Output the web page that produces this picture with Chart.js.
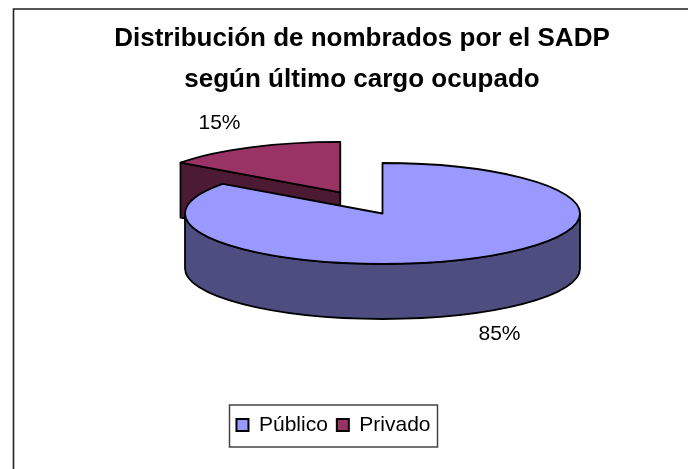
<!DOCTYPE html>
<html>
<head>
<meta charset="utf-8">
<style>html,body{margin:0;padding:0;background:#fff}canvas{display:block}</style>
<script src="https://cdn.jsdelivr.net/npm/chart.js@4"></script>
</head>
<body>
<canvas id="c" width="688" height="469"></canvas>
<script>
const titleLines = ['Distribución de nombrados por el SADP', 'según último cargo ocupado'];
const categories = ['Público', 'Privado'];
const shares = [85, 15];
const topColors = ['#9999FF', '#993366'];
const wallColors = ['#4D4D80', '#4D1A33'];

const FONT = '"Liberation Sans", Arial, sans-serif';
const PIE_X = 382.5, PIE_Y = 213.5, RADIUS = 197.5, SQUASH = 50.5 / 197.5, DEPTH = 55, EXPLODE = 93;
const LABEL_POS = [[499.5, 334], [219.5, 123]];

function screenY(el, y) { return PIE_Y + (y - el._base) * SQUASH; }

const pie3d = {
  id: 'pie3d',
  beforeDraw(chart) {
    const c = chart.ctx;
    c.save();
    c.strokeStyle = '#222';
    c.lineWidth = 1.6;
    c.beginPath();
    c.moveTo(688, 9); c.lineTo(13.5, 9); c.lineTo(13.5, 469);
    c.stroke();
    c.restore();
  },
  afterLayout(chart) {
    const l = chart.legend;
    l.left = 223; l.right = 444; l.width = 221;
    l.top = 405.5; l.height = 42; l.bottom = 447.5;
  },
  afterDatasetsUpdate(chart) {
    chart.getDatasetMeta(0).data.forEach((el, i) => {
      const base = el.y;
      el._base = base;
      el.x = PIE_X;
      if (i === 1) {
        const mid = (el.startAngle + el.endAngle) / 2;
        el.x += Math.cos(mid) * EXPLODE;
        el.y += Math.sin(mid) * EXPLODE;
      }
    });
  },
  beforeDatasetDraw(chart) {
    const c = chart.ctx;
    const arcs = chart.getDatasetMeta(0).data;
    c.save();
    c.lineJoin = 'round';
    c.strokeStyle = '#000';
    c.lineWidth = 1.8;
    for (let i = arcs.length - 1; i >= 0; i--) {
      const el = arcs[i];
      const cx = el.x, cy = screenY(el, el.y);
      const ry = RADIUS * SQUASH;
      const sa = el.startAngle;
      // radial face on the start edge, seen when it points to the viewer
      if (Math.sin(sa - Math.PI / 2) > 0.01) {
        const px = cx + Math.cos(sa) * RADIUS, py = cy + Math.sin(sa) * ry;
        c.beginPath();
        c.moveTo(cx, cy); c.lineTo(px, py); c.lineTo(px, py + DEPTH); c.lineTo(cx, cy + DEPTH);
        c.closePath();
        c.fillStyle = wallColors[i];
        c.fill(); c.stroke();
      }
      // outer wall: the part of the rim in the front half of the ellipse
      const a0 = Math.max(sa, 0), a1 = Math.min(el.endAngle, Math.PI);
      if (a1 > a0) {
        c.beginPath();
        c.ellipse(cx, cy, RADIUS, ry, 0, a0, a1);
        c.ellipse(cx, cy + DEPTH, RADIUS, ry, 0, a1, a0, true);
        c.closePath();
        c.fillStyle = wallColors[i];
        c.fill(); c.stroke();
      }
    }
    c.restore();
    const base = arcs[0]._base;
    c.save();
    c.translate(0, PIE_Y);
    c.scale(1, SQUASH);
    c.translate(0, -base);
  },
  afterDatasetDraw(chart) {
    const c = chart.ctx;
    c.restore();
    const arcs = chart.getDatasetMeta(0).data;
    c.save();
    c.strokeStyle = '#000';
    c.lineWidth = 1.8;
    c.lineJoin = 'round';
    arcs.forEach(el => {
      const cx = el.x, cy = screenY(el, el.y);
      c.beginPath();
      c.moveTo(cx, cy);
      c.ellipse(cx, cy, RADIUS, RADIUS * SQUASH, 0, el.startAngle, el.endAngle);
      c.closePath();
      c.stroke();
    });
    c.restore();
  },
  afterDraw(chart) {
    const c = chart.ctx;
    c.save();
    c.strokeStyle = '#444';
    c.lineWidth = 1.5;
    c.strokeRect(229.5, 405, 208, 42);
    c.fillStyle = '#000';
    c.font = '21px ' + FONT;
    c.textAlign = 'center';
    c.textBaseline = 'middle';
    const total = shares.reduce((a, b) => a + b, 0);
    shares.forEach((v, i) => {
      c.fillText(Math.round(v / total * 100) + '%', LABEL_POS[i][0], LABEL_POS[i][1]);
    });
    c.restore();
  }
};

new Chart(document.getElementById('c'), {
  type: 'pie',
  data: {
    labels: categories,
    datasets: [{
      data: shares,
      backgroundColor: topColors,
      borderWidth: 0,
      clip: false
    }]
  },
  plugins: [pie3d],
  options: {
    responsive: false,
    animation: false,
    radius: RADIUS,
    layout: { padding: { left: 36 } },
    plugins: {
      tooltip: { enabled: false },
      title: {
        display: true,
        text: titleLines,
        color: '#000',
        font: { family: FONT, size: 26, weight: 'bold', lineHeight: 1.58 },
        padding: { top: 18, bottom: 0 }
      },
      legend: {
        position: 'bottom',
        labels: {
          color: '#000',
          font: { family: FONT, size: 21 },
          boxWidth: 12,
          boxHeight: 12,
          padding: 9,
          generateLabels() {
            return categories.map((t, i) => ({
              text: t, fillStyle: topColors[i], strokeStyle: '#000', lineWidth: 2, index: i, fontColor: '#000'
            }));
          }
        }
      }
    }
  }
});
</script>
</body>
</html>
